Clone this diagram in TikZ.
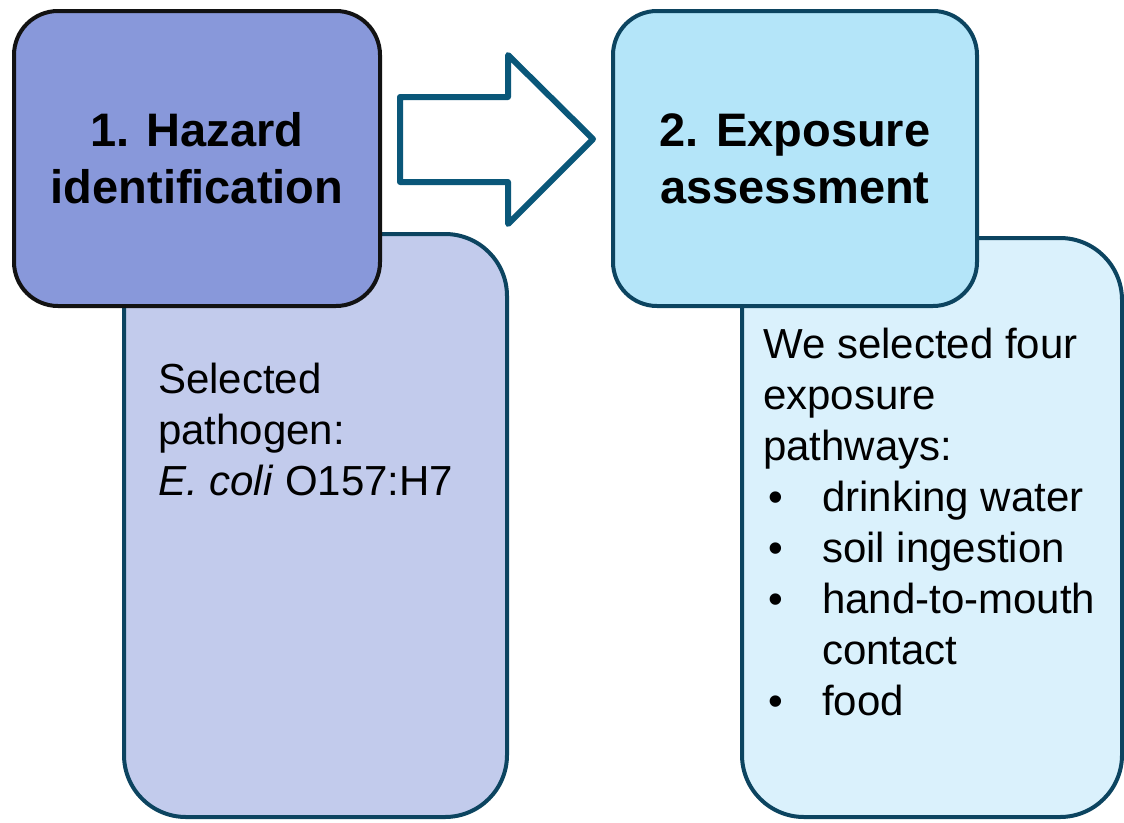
\documentclass[tikz,border=0pt]{standalone}
\usepackage{fontspec}
\setmainfont{Liberation Sans}
\usetikzlibrary{positioning}

\definecolor{headone}{HTML}{8898DA}
\definecolor{bodyone}{HTML}{C2CBEC}
\definecolor{headtwo}{HTML}{B4E5F9}
\definecolor{bodytwo}{HTML}{DAF1FC}
\definecolor{edgeblue}{HTML}{0C4460}
\definecolor{arrowblue}{HTML}{0A5779}

\tikzset{
  headbox/.style={draw, line width=4pt, rounded corners=44pt, align=center,
    font=\fontsize{47}{57}\selectfont\bfseries},
  bodybox/.style={draw=edgeblue, line width=4pt, rounded corners=62pt},
  bodytext/.style={anchor=base west, align=left, inner sep=0pt,
    font=\fontsize{42}{51}\selectfont}
}

\begin{document}
\begin{tikzpicture}[x=1pt, y=-1pt]
\useasboundingbox (0,0) rectangle (1124,822);

\node[bodybox, fill=bodyone, minimum width=383pt, minimum height=583pt] (hazbody) at (315.5, 525.5) {};
\node[bodybox, fill=bodytwo, minimum width=380pt, minimum height=579pt] (expbody) at (932, 527.5) {};

\node[headbox, draw=black!93, fill=headone, minimum width=366pt, minimum height=295pt] (haz) at (197, 158.5) {1. Hazard\\identification};
\node[headbox, draw=edgeblue, fill=headtwo, minimum width=364pt, minimum height=295pt] (exp) at (795, 158.5) {2. Exposure\\assessment};

\draw[arrowblue, fill=white, line width=6pt, line join=round]
  (400,97) -- (508,97) -- (508,55) -- (593,139) -- (508,224) -- (508,182) -- (400,182) -- cycle;

% base anchor sits on the last line
\node[bodytext] (haztext) at (158, 495) {Selected\\pathogen:\\\textit{E. coli} O157:H7};
\node[bodytext] (exptext) at (763, 715) {We selected four\\exposure\\pathways:\\
  \makebox[59pt][l]{\hspace{5pt}\textbullet}drinking water\\
  \makebox[59pt][l]{\hspace{5pt}\textbullet}soil ingestion\\
  \makebox[59pt][l]{\hspace{5pt}\textbullet}hand-to-mouth\\
  \hspace*{59pt}contact\\
  \makebox[59pt][l]{\hspace{5pt}\textbullet}food};

\end{tikzpicture}
\end{document}
